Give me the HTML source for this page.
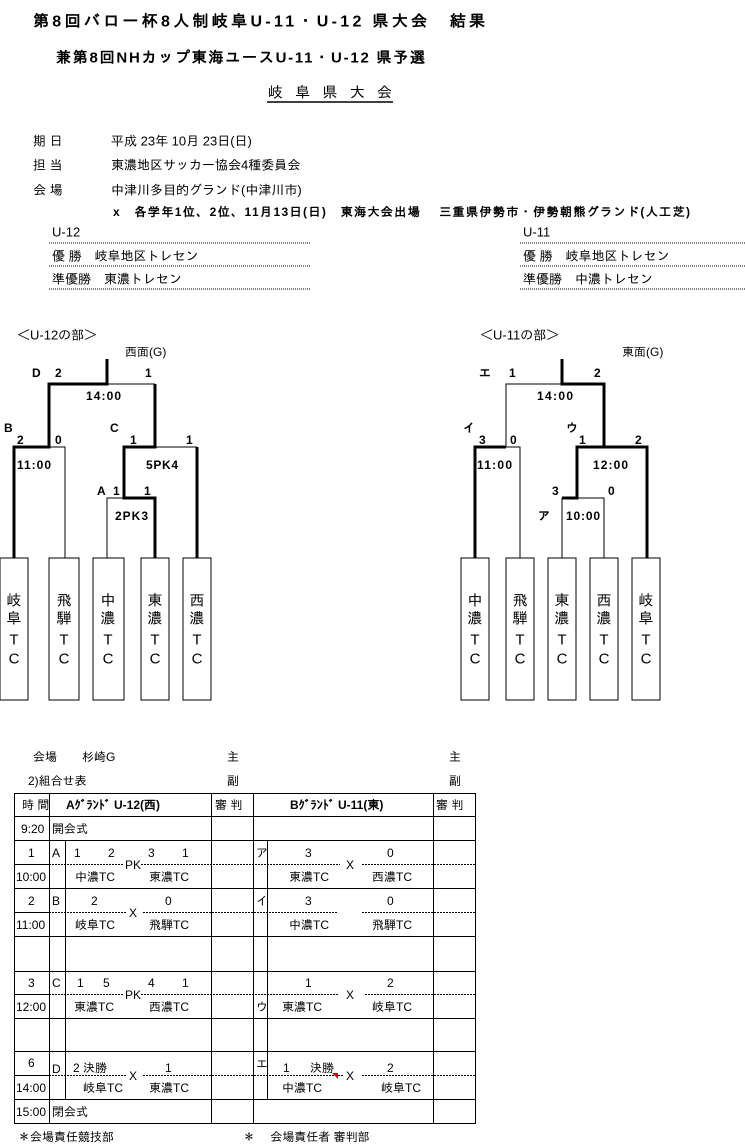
<!DOCTYPE html>
<html><head><meta charset="utf-8"><style>
html,body{margin:0;padding:0;background:#fff}
svg{display:block}
text{font-family:"Liberation Sans","IPAGothic","Noto Sans CJK JP",sans-serif;fill:#000;dominant-baseline:central}
.b{font-weight:bold}
.s{font-size:12px}
.m{font-size:13px}
</style></head><body>
<svg width="745" height="1148" viewBox="0 0 745 1148" xmlns="http://www.w3.org/2000/svg">
<!-- header -->
<text x="33" y="22" font-size="16" class="b" textLength="452">第8回バロー杯8人制岐阜U-11・U-12 県大会　結果</text>
<text x="56" y="58" font-size="15" class="b" textLength="369">兼第8回NHカップ東海ユースU-11・U-12 県予選</text>
<text x="268" y="93" font-size="15" textLength="124">岐 阜 県 大 会</text>
<line x1="267" y1="102" x2="393" y2="102" stroke="#000" stroke-width="1.5"/>
<text x="33" y="141" class="m">期 日</text><text x="111" y="141" class="m">平成 23年 10月 23日(日)</text>
<text x="33" y="165" class="m">担 当</text><text x="111" y="165" class="m">東濃地区サッカー協会4種委員会</text>
<text x="33" y="190" class="m">会 場</text><text x="111" y="190" class="m">中津川多目的グランド(中津川市)</text>
<text x="113" y="212" class="s b" textLength="577">x　各学年1位、2位、11月13日(日)　東海大会出場　 三重県伊勢市・伊勢朝熊グランド(人工芝)</text>
<text x="52" y="232" class="m">U-12</text>
<text x="52" y="256" class="m">優 勝　岐阜地区トレセン</text>
<text x="52" y="279" class="m">準優勝　東濃トレセン</text>
<text x="523" y="232" class="m">U-11</text>
<text x="523" y="256" class="m">優 勝　岐阜地区トレセン</text>
<text x="523" y="279" class="m">準優勝　中濃トレセン</text>
<g stroke="#000" stroke-dasharray="1,1" stroke-width="1">
<line x1="49" y1="243" x2="310" y2="243"/><line x1="49" y1="266" x2="310" y2="266"/><line x1="49" y1="289" x2="310" y2="289"/>
<line x1="520" y1="243" x2="745" y2="243"/><line x1="520" y1="266" x2="745" y2="266"/><line x1="520" y1="289" x2="745" y2="289"/>
</g>

<!-- U-12 bracket -->
<text x="17" y="335" class="m">＜U-12の部＞</text>
<text x="125" y="352" class="s">西面(G)</text>
<g fill="none" stroke="#000" stroke-width="1">
<polyline points="107,384 155,384"/>
<polyline points="49,447 65,447 65,558"/>
<polyline points="155,447 197,447"/>
<polyline points="124,498 107,498 107,558"/>
</g>
<g fill="none" stroke="#000" stroke-width="3">
<polyline points="107,359 107,384 49,384 49,447 14,447 14,558"/>
<polyline points="155,384 155,447 124,447 124,498 155,498 155,558"/>
<polyline points="197,447 197,558"/>
</g>
<g class="s b">
<text x="32" y="373">D</text><text x="55" y="373">2</text><text x="145" y="373">1</text>
<text x="86" y="396" textLength="35">14:00</text>
<text x="4" y="428">B</text><text x="17" y="440">2</text><text x="55" y="440">0</text>
<text x="110" y="428">C</text><text x="130" y="440">1</text><text x="186" y="440">1</text>
<text x="17" y="465" textLength="34">11:00</text>
<text x="146" y="465" textLength="32">5PK4</text>
<text x="97" y="491">A</text><text x="113" y="491">1</text><text x="144" y="491">1</text>
<text x="115" y="516" textLength="33">2PK3</text>
</g>
<!-- U-11 bracket -->
<text x="480" y="335" class="m">＜U-11の部＞</text>
<text x="622" y="352" class="s">東面(G)</text>
<g fill="none" stroke="#000" stroke-width="1">
<polyline points="506,447 506,384 562,384"/>
<polyline points="506,447 520,447 520,558"/>
<polyline points="577,447 604,447"/>
<polyline points="577,498 604,498 604,558"/>
<polyline points="562,498 562,558"/>
</g>
<g fill="none" stroke="#000" stroke-width="3">
<polyline points="562,359 562,384 604,384 604,447 647,447 647,558"/>
<polyline points="506,447 475,447 475,558"/>
<polyline points="604,447 577,447 577,498 562,498"/>
</g>
<g class="s b">
<text x="479" y="373">エ</text><text x="509" y="373">1</text><text x="594" y="373">2</text>
<text x="537" y="396" textLength="36">14:00</text>
<text x="463" y="428">イ</text><text x="479" y="440">3</text><text x="510" y="440">0</text>
<text x="566" y="428">ウ</text><text x="579" y="440">1</text><text x="635" y="440">2</text>
<text x="477" y="465" textLength="35">11:00</text>
<text x="593" y="465" textLength="35">12:00</text>
<text x="552" y="491">3</text><text x="608" y="491">0</text>
<text x="538" y="516">ア</text>
<text x="566" y="516" textLength="34">10:00</text>
</g>
<!-- team boxes -->
<g fill="#fff" stroke="#000" stroke-width="1">
<rect x="0" y="558" width="28" height="142"/><rect x="49" y="558" width="30" height="142"/>
<rect x="93" y="558" width="31" height="142"/><rect x="141" y="558" width="28" height="142"/>
<rect x="183" y="558" width="28" height="142"/>
<rect x="461" y="558" width="28" height="142"/><rect x="506" y="558" width="28" height="142"/>
<rect x="548" y="558" width="28" height="142"/><rect x="590" y="558" width="28" height="142"/>
<rect x="632" y="558" width="28" height="142"/>
</g>
<g font-size="15" text-anchor="middle">
<text x="14" y="601">岐</text><text x="14" y="619">阜</text><text x="14" y="640">T</text><text x="14" y="659">C</text>
<text x="64" y="601">飛</text><text x="64" y="619">騨</text><text x="64" y="640">T</text><text x="64" y="659">C</text>
<text x="108" y="601">中</text><text x="108" y="619">濃</text><text x="108" y="640">T</text><text x="108" y="659">C</text>
<text x="155" y="601">東</text><text x="155" y="619">濃</text><text x="155" y="640">T</text><text x="155" y="659">C</text>
<text x="197" y="601">西</text><text x="197" y="619">濃</text><text x="197" y="640">T</text><text x="197" y="659">C</text>
<text x="475" y="601">中</text><text x="475" y="619">濃</text><text x="475" y="640">T</text><text x="475" y="659">C</text>
<text x="520" y="601">飛</text><text x="520" y="619">騨</text><text x="520" y="640">T</text><text x="520" y="659">C</text>
<text x="562" y="601">東</text><text x="562" y="619">濃</text><text x="562" y="640">T</text><text x="562" y="659">C</text>
<text x="604" y="601">西</text><text x="604" y="619">濃</text><text x="604" y="640">T</text><text x="604" y="659">C</text>
<text x="646" y="601">岐</text><text x="646" y="619">阜</text><text x="646" y="640">T</text><text x="646" y="659">C</text>
</g>

<!-- table pre -->
<g class="s">
<text x="33" y="757">会場</text><text x="82" y="757">杉崎G</text>
<text x="227" y="757">主</text><text x="449" y="757">主</text>
<text x="28" y="781">2)組合せ表</text>
<text x="227" y="781">副</text><text x="449" y="781">副</text>
</g>
<!-- table grid -->
<g stroke="#000" stroke-width="1" fill="none">
<rect x="14.5" y="793.5" width="461" height="330"/>
<line x1="14.5" y1="816.5" x2="475.5" y2="816.5"/>
<line x1="14.5" y1="840.5" x2="475.5" y2="840.5"/>
<line x1="14.5" y1="888.5" x2="475.5" y2="888.5"/>
<line x1="14.5" y1="936.5" x2="475.5" y2="936.5"/>
<line x1="14.5" y1="971.5" x2="475.5" y2="971.5"/>
<line x1="14.5" y1="1018.5" x2="475.5" y2="1018.5"/>
<line x1="14.5" y1="1051.5" x2="475.5" y2="1051.5"/>
<line x1="14.5" y1="1099.5" x2="475.5" y2="1099.5"/>
<line x1="14.5" y1="864.5" x2="49.5" y2="864.5"/>
<line x1="14.5" y1="912.5" x2="49.5" y2="912.5"/>
<line x1="14.5" y1="994.5" x2="49.5" y2="994.5"/>
<line x1="14.5" y1="1075.5" x2="49.5" y2="1075.5"/>
<line x1="49.5" y1="793.5" x2="49.5" y2="1123.5"/>
<line x1="65.5" y1="840.5" x2="65.5" y2="1099.5"/>
<line x1="211.5" y1="793.5" x2="211.5" y2="1123.5"/>
<line x1="253.5" y1="793.5" x2="253.5" y2="1123.5"/>
<line x1="267.5" y1="840.5" x2="267.5" y2="1099.5"/>
<line x1="433.5" y1="793.5" x2="433.5" y2="1123.5"/>
</g>
<g stroke="#000" stroke-width="1" stroke-dasharray="2,1">
<line x1="49" y1="864.5" x2="124" y2="864.5"/><line x1="141" y1="864.5" x2="340" y2="864.5"/><line x1="362" y1="864.5" x2="475" y2="864.5"/>
<line x1="49" y1="912.5" x2="126" y2="912.5"/><line x1="143" y1="912.5" x2="337" y2="912.5"/><line x1="362" y1="912.5" x2="475" y2="912.5"/>
<line x1="49" y1="994.5" x2="124" y2="994.5"/><line x1="141" y1="994.5" x2="338" y2="994.5"/><line x1="365" y1="994.5" x2="475" y2="994.5"/>
<line x1="49" y1="1075.5" x2="126" y2="1075.5"/><line x1="143" y1="1075.5" x2="343" y2="1075.5"/><line x1="362" y1="1075.5" x2="475" y2="1075.5"/>
</g>
<g class="s">
<text x="22" y="805">時 間</text><text x="66" y="805" class="b">Aｸﾞﾗﾝﾄﾞ U-12(西)</text>
<text x="215" y="805">審 判</text><text x="290" y="805" class="b">Bｸﾞﾗﾝﾄﾞ U-11(東)</text>
<text x="436" y="805">審 判</text>
<text x="21" y="829">9:20</text><text x="52" y="829">開会式</text>
<text x="28" y="853">1</text><text x="52" y="853">A</text>
<text x="74" y="853">1</text><text x="108" y="853">2</text><text x="148" y="853">3</text><text x="182" y="853">1</text>
<text x="125" y="865">PK</text>
<text x="16" y="877">10:00</text><text x="75" y="877">中濃TC</text><text x="149" y="877">東濃TC</text>
<text x="256" y="853">ア</text><text x="305" y="853">3</text><text x="387" y="853">0</text><text x="346" y="865">X</text>
<text x="289" y="877">東濃TC</text><text x="372" y="877">西濃TC</text>
<text x="28" y="901">2</text><text x="52" y="901">B</text><text x="91" y="901">2</text><text x="165" y="901">0</text><text x="129" y="913">X</text>
<text x="16" y="925">11:00</text><text x="75" y="925">岐阜TC</text><text x="149" y="925">飛騨TC</text>
<text x="256" y="901">イ</text><text x="305" y="901">3</text><text x="387" y="901">0</text>
<text x="289" y="925">中濃TC</text><text x="372" y="925">飛騨TC</text>
<text x="28" y="983">3</text><text x="52" y="983">C</text>
<text x="77" y="983">1</text><text x="103" y="983">5</text><text x="148" y="983">4</text><text x="182" y="983">1</text>
<text x="125" y="995">PK</text>
<text x="16" y="1007">12:00</text><text x="74" y="1007">東濃TC</text><text x="149" y="1007">西濃TC</text>
<text x="305" y="983">1</text><text x="387" y="983">2</text><text x="346" y="995">X</text>
<text x="256" y="1007">ウ</text><text x="282" y="1007">東濃TC</text><text x="372" y="1007">岐阜TC</text>
<text x="28" y="1063">6</text><text x="52" y="1069">D</text><text x="73" y="1068">2 決勝</text>
<text x="129" y="1076">X</text><text x="165" y="1068">1</text>
<text x="16" y="1088">14:00</text><text x="83" y="1088">岐阜TC</text><text x="149" y="1088">東濃TC</text>
<text x="256" y="1064">エ</text><text x="283" y="1068">1</text><text x="310" y="1068">決勝</text>
<text x="346" y="1076">X</text><text x="387" y="1068">2</text>
<text x="282" y="1088">中濃TC</text><text x="381" y="1088">岐阜TC</text>
<text x="16" y="1112">15:00</text><text x="52" y="1112">閉会式</text>
<text x="18" y="1137">＊会場責任競技部</text>
<text x="243" y="1137">＊　 会場責任者 審判部</text>
</g>
<polygon points="332,1073 338,1073 338,1079" fill="#d00"/>
</svg>
</body></html>
